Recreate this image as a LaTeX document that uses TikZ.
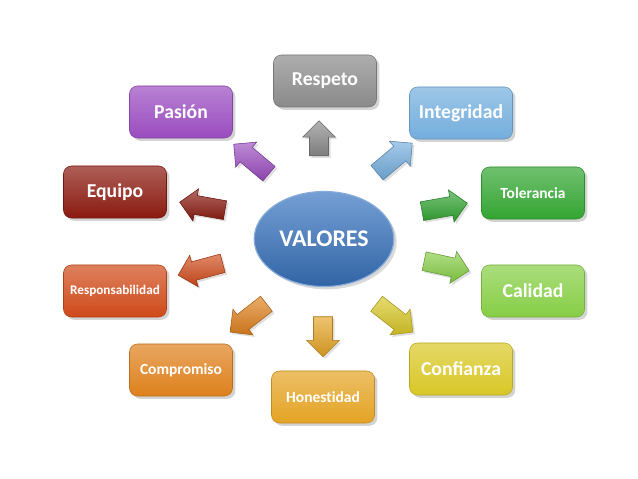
\documentclass[tikz,border=0pt]{standalone}
\usepackage{fontspec}
\setmainfont{Carlito}
\usepackage{tikz}
\usetikzlibrary{shapes.geometric, shapes.arrows, shadows}
\definecolor{gris}{HTML}{8A8A8A}
\definecolor{celeste}{HTML}{74AEDD}
\definecolor{verde}{HTML}{33A532}
\definecolor{verdeclaro}{HTML}{86CE45}
\definecolor{amarillo}{HTML}{D9C726}
\definecolor{ocre}{HTML}{E4A324}
\definecolor{naranja}{HTML}{DE801C}
\definecolor{rojizo}{HTML}{CF4A19}
\definecolor{granate}{HTML}{8A1A10}
\definecolor{morado}{HTML}{9A4CBF}
\definecolor{azul}{HTML}{3A76C2}
\tikzset{
  valor/.style={
    rounded corners=0.2cm,
    minimum width=2.575cm,
    minimum height=1.3cm,
    top color=#1!70!white,
    bottom color=#1,
    draw=#1!85!black,
    thin,
    text=white,
    font=\bfseries\fontsize{14}{16}\selectfont,
    align=center,
    drop shadow={opacity=0.35, shadow xshift=2pt, shadow yshift=-2pt}
  },
  flecha/.style={
    single arrow,
    minimum height=1.15cm,
    single arrow head extend=0.17cm,
    inner xsep=0pt,
    inner ysep=0.23cm,
    top color=#1!65!white,
    bottom color=#1!90!black,
    draw=#1!75!black,
    thin,
    drop shadow={opacity=0.25, shadow xshift=1.5pt, shadow yshift=-1.5pt}
  },
  centro/.style={
    ellipse,
    minimum width=3.1cm,
    minimum height=2.375cm,
    top color=azul!70!white,
    bottom color=azul!85!black,
    draw=azul!60!white,
    thick,
    text=white,
    font=\bfseries\fontsize{17}{20}\selectfont,
    drop shadow={opacity=0.3, shadow xshift=2pt, shadow yshift=-2pt}
  }
}
\begin{document}
\begin{tikzpicture}[x=0.025cm, y=0.025cm]
  \useasboundingbox (0,0) rectangle (638,479);

  % ====== CENTRO ======
  \node[centro] (valores) at (324,240) {VALORES};

  % ====== CAJAS ======
  \node[valor=gris] (respeto) at (325,398) {Respeto};
  \node[valor=celeste] (integridad) at (461,366) {Integridad};
  \node[valor=verde, font=\bfseries\fontsize{11}{13}\selectfont] (tolerancia) at (533,286) {Tolerancia};
  \node[valor=verdeclaro] (calidad) at (533,188) {Calidad};
  \node[valor=amarillo] (confianza) at (461,110) {Confianza};
  \node[valor=ocre, font=\bfseries\fontsize{11}{13}\selectfont\addfontfeature{Ligatures=NoCommon}] (honestidad) at (323,82) {Honestidad};
  \node[valor=naranja, font=\bfseries\fontsize{11}{13}\selectfont] (compromiso) at (181,109) {Compromiso};
  \node[valor=rojizo, font=\bfseries\fontsize{9.4}{11}\selectfont] (responsabilidad) at (115,188) {Responsabilidad};
  \node[valor=granate] (equipo) at (115,287) {Equipo};
  \node[valor=morado] (pasion) at (181,367) {Pasión};

  % ====== FLECHAS ======
  \node[flecha=gris, rotate=90, minimum height=0.875cm] (frespeto) at (319,336) {};
  \node[flecha=celeste, rotate=40] (fintegridad) at (391,318) {};
  \node[flecha=verde, rotate=10] (ftolerancia) at (440,271) {};
  \node[flecha=verdeclaro, rotate=-12] (fcalidad) at (442,214) {};
  \node[flecha=amarillo, rotate=-38] (fconfianza) at (391,164) {};
  \node[flecha=ocre, rotate=-90, minimum height=1cm] (fhonestidad) at (323,147) {};
  \node[flecha=naranja, rotate=-142] (fcompromiso) at (252,164) {};
  \node[flecha=rojizo, rotate=-165] (fresponsabilidad) at (205,211) {};
  \node[flecha=granate, rotate=170] (fequipo) at (207,272) {};
  \node[flecha=morado, rotate=140] (fpasion) at (255,317) {};

\end{tikzpicture}
\end{document}
